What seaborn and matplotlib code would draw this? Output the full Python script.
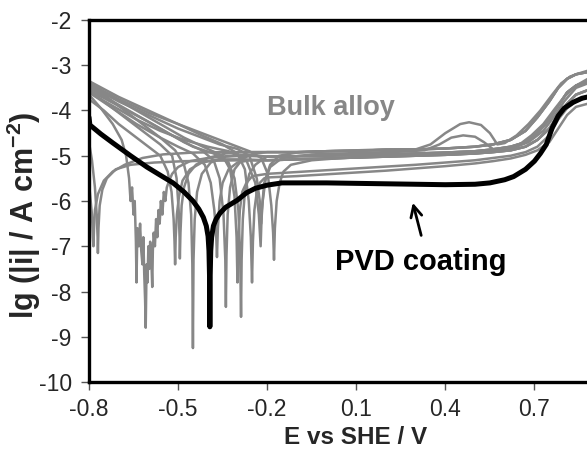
import numpy as np
import pandas as pd
import matplotlib
matplotlib.use("Agg")
import matplotlib.pyplot as plt
import seaborn as sns

# ---------------- data ----------------
x_ticks = [-0.8, -0.5, -0.2, 0.1, 0.4, 0.7]
x_tick_labels = ["-0.8", "-0.5", "-0.2", "0.1", "0.4", "0.7"]
y_ticks = [-10, -9, -8, -7, -6, -5, -4, -3, -2]

# shared passive / transpassive tails of the bulk-alloy curves
tail_E = [-0.20, -0.10, 0.00, 0.10, 0.20, 0.30, 0.40, 0.50, 0.56, 0.62, 0.67, 0.71, 0.75, 0.78, 0.81, 0.84, 0.88]
tail_up = [-4.92, -4.92, -4.90, -4.89, -4.87, -4.86, -4.84, -4.80, -4.75, -4.65, -4.45, -4.15, -3.80, -3.50, -3.30, -3.20, -3.15]
tail_mid = [-5.02, -5.01, -5.00, -4.98, -4.97, -4.95, -4.93, -4.90, -4.86, -4.80, -4.70, -4.50, -4.20, -3.90, -3.60, -3.45, -3.35]
tail_mid2 = [-5.10, -5.08, -5.06, -5.04, -5.02, -5.00, -4.98, -4.95, -4.92, -4.88, -4.80, -4.65, -4.40, -4.10, -3.85, -3.65, -3.55]
tail_low = [-5.40, -5.36, -5.32, -5.28, -5.24, -5.20, -5.15, -5.10, -5.05, -5.00, -4.92, -4.80, -4.55, -4.20, -3.95, -3.80, -3.70]
tail_low2 = [-5.48, -5.45, -5.41, -5.37, -5.33, -5.28, -5.23, -5.17, -5.12, -5.06, -4.98, -4.88, -4.70, -4.40, -4.10, -3.92, -3.85]

g1_E = [-0.80, -0.79, -0.78, -0.774, -0.771, -0.77, -0.768, -0.764, -0.755, -0.74, -0.71, -0.66, -0.58, -0.48, -0.38, -0.28]
g1_Y = [-4.7, -5.1, -5.7, -6.3, -6.8, -7.15, -6.6, -6.1, -5.75, -5.5, -5.3, -5.2, -5.15, -5.12, -5.11, -5.10]

g2_E = [-0.80, -0.79, -0.787, -0.785, -0.783, -0.78, -0.77, -0.75, -0.72, -0.68, -0.62, -0.55, -0.45, -0.35, -0.28]
g2_Y = [-5.6, -6.3, -6.8, -7.0, -6.6, -6.2, -5.85, -5.55, -5.35, -5.2, -5.05, -4.97, -4.93, -4.92, -4.92]

g3_E = [-0.80, -0.76, -0.72, -0.69, -0.675, -0.665, -0.66, -0.655, -0.65, -0.646, -0.642, -0.64, -0.637,
        -0.632, -0.628, -0.624, -0.62, -0.617, -0.614, -0.611, -0.609, -0.606, -0.603, -0.60, -0.597,
        -0.594, -0.59, -0.587, -0.585, -0.582, -0.578, -0.574, -0.57, -0.566, -0.562, -0.558, -0.553,
        -0.548, -0.543, -0.538, -0.53, -0.52, -0.50, -0.46, -0.40, -0.32, -0.26]
g3_Y = [-3.65, -3.95, -4.3, -4.65, -5.0, -5.5, -6.0, -5.7, -6.3, -6.0, -6.9, -7.8, -6.6,
        -7.0, -6.5, -7.1, -7.4, -6.8, -7.6, -8.2, -8.8, -7.4, -7.8, -7.0, -7.5,
        -6.9, -7.3, -7.9, -7.1, -6.7, -7.0, -6.4, -6.8, -6.2, -6.5, -6.0, -6.3,
        -5.8, -6.0, -5.7, -5.55, -5.4, -5.25, -5.12, -5.05, -5.0, -4.98]

g4_E = [-0.80, -0.75, -0.70, -0.65, -0.60, -0.56, -0.535, -0.522, -0.515, -0.512, -0.51, -0.508, -0.504, -0.497, -0.485, -0.46, -0.42, -0.36, -0.28]
g4_Y = [-3.75, -4.0, -4.3, -4.55, -4.8, -5.0, -5.35, -5.8, -6.4, -6.9, -7.4, -6.8, -6.3, -5.9, -5.55, -5.3, -5.15, -5.08, -5.08]

g5_E = [-0.80, -0.74, -0.68, -0.62, -0.56, -0.52, -0.505, -0.498, -0.495, -0.494, -0.492, -0.488, -0.48, -0.465, -0.44, -0.40, -0.34, -0.28]
g5_Y = [-3.55, -3.85, -4.15, -4.45, -4.75, -5.0, -5.5, -6.2, -6.8, -7.27, -6.7, -6.1, -5.7, -5.4, -5.2, -5.05, -4.95, -4.92]

g6_E = [-0.80, -0.74, -0.68, -0.62, -0.56, -0.51, -0.48, -0.465, -0.456, -0.452, -0.45, -0.448, -0.444, -0.436, -0.42, -0.39, -0.34, -0.28]
g6_Y = [-3.45, -3.7, -4.0, -4.3, -4.6, -4.88, -5.2, -5.6, -6.3, -7.4, -9.25, -7.3, -6.4, -5.8, -5.4, -5.15, -5.02, -5.0]

g7_E = [-0.80, -0.72, -0.64, -0.56, -0.50, -0.45, -0.41, -0.39, -0.378, -0.372, -0.369, -0.366, -0.36, -0.35, -0.33, -0.30, -0.26]
g7_Y = [-3.6, -3.95, -4.3, -4.6, -4.8, -4.95, -5.2, -5.6, -6.2, -6.7, -7.24, -6.6, -6.0, -5.6, -5.3, -5.15, -5.1]

g8_E = [-0.80, -0.72, -0.64, -0.56, -0.48, -0.42, -0.38, -0.36, -0.347, -0.341, -0.339, -0.337, -0.333, -0.325, -0.31, -0.28, -0.24]
g8_Y = [-3.5, -3.8, -4.1, -4.4, -4.7, -4.88, -5.1, -5.5, -6.3, -7.3, -8.34, -7.2, -6.3, -5.7, -5.3, -5.05, -4.95]

g9_E = [-0.80, -0.72, -0.64, -0.56, -0.48, -0.40, -0.35, -0.325, -0.31, -0.303, -0.30, -0.297, -0.292, -0.284, -0.27, -0.25, -0.22]
g9_Y = [-3.4, -3.7, -4.0, -4.3, -4.6, -4.85, -5.0, -5.3, -5.9, -6.8, -7.8, -6.9, -6.2, -5.8, -5.6, -5.45, -5.42]

g10_E = [-0.80, -0.70, -0.60, -0.52, -0.45, -0.38, -0.33, -0.31, -0.297, -0.291, -0.288, -0.286, -0.282, -0.275, -0.26, -0.24, -0.22]
g10_Y = [-3.55, -3.9, -4.25, -4.55, -4.8, -4.95, -5.15, -5.5, -6.2, -7.2, -8.56, -7.3, -6.4, -5.8, -5.4, -5.2, -5.1]

g11_E = [-0.80, -0.70, -0.60, -0.50, -0.42, -0.35, -0.30, -0.275, -0.262, -0.255, -0.251, -0.248, -0.243, -0.235, -0.225, -0.21]
g11_Y = [-3.35, -3.7, -4.0, -4.3, -4.55, -4.75, -4.95, -5.3, -6.0, -6.8, -7.8, -6.9, -6.2, -5.8, -5.6, -5.5]

g12_E = [-0.80, -0.70, -0.60, -0.50, -0.40, -0.32, -0.26, -0.22, -0.198, -0.186, -0.18, -0.177, -0.174, -0.168, -0.158,
         -0.145, -0.12, -0.05, 0.05, 0.15, 0.25, 0.35, 0.45, 0.55, 0.62, 0.68, 0.73, 0.77, 0.80, 0.84, 0.88]
g12_Y = [-3.4, -3.75, -4.05, -4.3, -4.55, -4.75, -4.9, -5.05, -5.4, -6.1, -6.7, -7.3, -6.6, -6.0, -5.6,
         -5.35, -5.2, -5.1, -5.05, -5.02, -5.0, -4.98, -4.96, -4.92, -4.85, -4.7, -4.45, -4.1, -3.8, -3.5, -3.4]

g13_E = [-0.80, -0.70, -0.60, -0.50, -0.42, -0.36, -0.30, -0.26, -0.235, -0.225, -0.22, -0.215, -0.205, -0.19, -0.16,
         -0.10, 0.00, 0.10, 0.20, 0.30, 0.35, 0.40, 0.45, 0.48, 0.52, 0.55, 0.575, 0.60, 0.64, 0.68, 0.72, 0.76,
         0.79, 0.82, 0.85, 0.88]
g13_Y = [-3.45, -3.8, -4.1, -4.4, -4.6, -4.75, -4.85, -5.0, -5.5, -6.0, -6.5, -6.0, -5.5, -5.2, -5.0,
         -4.93, -4.9, -4.88, -4.86, -4.86, -4.75, -4.5, -4.3, -4.26, -4.32, -4.5, -4.75, -4.72, -4.55, -4.3, -4.0, -3.65,
         -3.4, -3.25, -3.18, -3.12]

g14_E = [-0.80, -0.72, -0.64, -0.56, -0.48, -0.40, -0.33, -0.27, -0.24, -0.228, -0.222, -0.218, -0.21, -0.19, -0.15,
         -0.05, 0.05, 0.15, 0.25, 0.33, 0.38, 0.42, 0.46, 0.50, 0.53, 0.56, 0.60, 0.65, 0.69, 0.73, 0.77, 0.80, 0.84, 0.88]
g14_Y = [-3.6, -3.9, -4.2, -4.45, -4.65, -4.8, -4.9, -5.1, -5.6, -6.3, -7.0, -6.2, -5.6, -5.25, -5.05,
         -4.97, -4.95, -4.93, -4.91, -4.88, -4.75, -4.6, -4.55, -4.58, -4.7, -4.85, -4.85, -4.75, -4.55, -4.3, -3.95, -3.7, -3.45, -3.3]

pvd_E = [-0.80, -0.797, -0.76, -0.719, -0.66, -0.605, -0.56, -0.517, -0.48, -0.45, -0.43, -0.415, -0.405,
         -0.399, -0.396, -0.394, -0.393, -0.392, -0.390, -0.387, -0.381, -0.372, -0.359, -0.34, -0.32, -0.30,
         -0.27, -0.24, -0.20, -0.15, -0.10, 0.00, 0.10, 0.20, 0.30, 0.40, 0.50, 0.55, 0.60, 0.63, 0.67, 0.70,
         0.72, 0.74, 0.76, 0.78, 0.80, 0.83, 0.86, 0.88]
pvd_Y = [-4.15, -4.32, -4.52, -4.72, -5.0, -5.25, -5.43, -5.60, -5.80, -6.0, -6.18, -6.36, -6.55,
         -6.78, -7.1, -7.7, -8.78, -7.7, -7.1, -6.8, -6.55, -6.4, -6.27, -6.14, -6.06, -5.98,
         -5.82, -5.72, -5.65, -5.6, -5.6, -5.6, -5.61, -5.62, -5.63, -5.64, -5.63, -5.6, -5.53, -5.46, -5.3, -5.12,
         -4.95, -4.75, -4.38, -4.12, -3.95, -3.82, -3.73, -3.7]

bulk_curves = [
    (g1_E + tail_E, g1_Y + tail_mid2),
    (g2_E + tail_E, g2_Y + tail_up),
    (g3_E + tail_E, g3_Y + tail_mid),
    (g4_E + tail_E, g4_Y + tail_mid2),
    (g5_E + tail_E, g5_Y + tail_up),
    (g6_E + tail_E, g6_Y + tail_mid),
    (g7_E + tail_E, g7_Y + tail_mid2),
    (g8_E + tail_E, g8_Y + tail_up),
    (g9_E + tail_E, g9_Y + tail_low),
    (g10_E + tail_E, g10_Y + tail_mid),
    (g11_E + tail_E, g11_Y + tail_low2),
    (g12_E, g12_Y),
    (g13_E, g13_Y),
    (g14_E, g14_Y),
]

# ---------------- styling ----------------
sns.set_style("white")
plt.rcParams["font.family"] = ["Liberation Sans", "DejaVu Sans"]
plt.rcParams["mathtext.fontset"] = "custom"
plt.rcParams["mathtext.rm"] = "Liberation Sans:bold"
plt.rcParams["mathtext.bf"] = "Liberation Sans:bold"
plt.rcParams["mathtext.default"] = "bf"

GREY = "#878787"

fig = plt.figure(figsize=(5.87, 4.49), dpi=100)
ax = fig.add_axes([0.1516, 0.1492, 0.8484, 0.8063])

rows = []
for i, (es, ys) in enumerate(bulk_curves):
    for k, (e, y) in enumerate(zip(es, ys)):
        rows.append({"curve": i, "order": k, "E": e, "lg": y})
bulk_df = pd.DataFrame(rows)
sns.lineplot(data=bulk_df, x="E", y="lg", units="curve", estimator=None, sort=False,
             color=GREY, lw=1.8, ax=ax)

pvd_df = pd.DataFrame({"E": pvd_E, "lg": pvd_Y})
sns.lineplot(data=pvd_df, x="E", y="lg", sort=False, estimator=None, color="black",
             lw=3.6, ax=ax, solid_joinstyle="round", solid_capstyle="round")

ax.set_xlim(-0.8, 0.877)
ax.set_ylim(-10, -2)
ax.set_xticks(x_ticks)
ax.set_xticklabels(x_tick_labels)
ax.set_yticks(y_ticks)
ax.set_yticklabels([str(v) for v in y_ticks])
ax.tick_params(axis="both", direction="out", length=5.5, width=1, color="#555555",
               labelsize=16.5, bottom=True, left=True)
ax.tick_params(axis="y", pad=7)
ax.tick_params(axis="x", pad=6)

for side in ["left", "bottom", "top"]:
    ax.spines[side].set_visible(True)
    ax.spines[side].set_color("black")
    ax.spines[side].set_linewidth(2.4)
ax.spines["right"].set_visible(False)

ax.set_xlabel("E vs SHE / V", fontsize=17.5, fontweight="bold")
ax.set_ylabel(r"lg (|i| / A cm$^{-2}$)", fontsize=22, fontweight="bold")
ax.xaxis.set_label_coords(0.536, -0.122)
ax.yaxis.set_label_coords(-0.093, 0.46)

ax.text(0.015, -3.94, "Bulk alloy", color=GREY, fontsize=19.5, fontweight="bold",
        ha="center", va="center")
ax.text(0.318, -7.35, "PVD coating", color="black", fontsize=21, fontweight="bold",
        ha="center", va="center")
ax.annotate("", xy=(0.288, -5.98), xytext=(0.321, -6.82),
            arrowprops=dict(arrowstyle="->", lw=2, color="black", mutation_scale=20))

fig.savefig("out.png", dpi=100)
